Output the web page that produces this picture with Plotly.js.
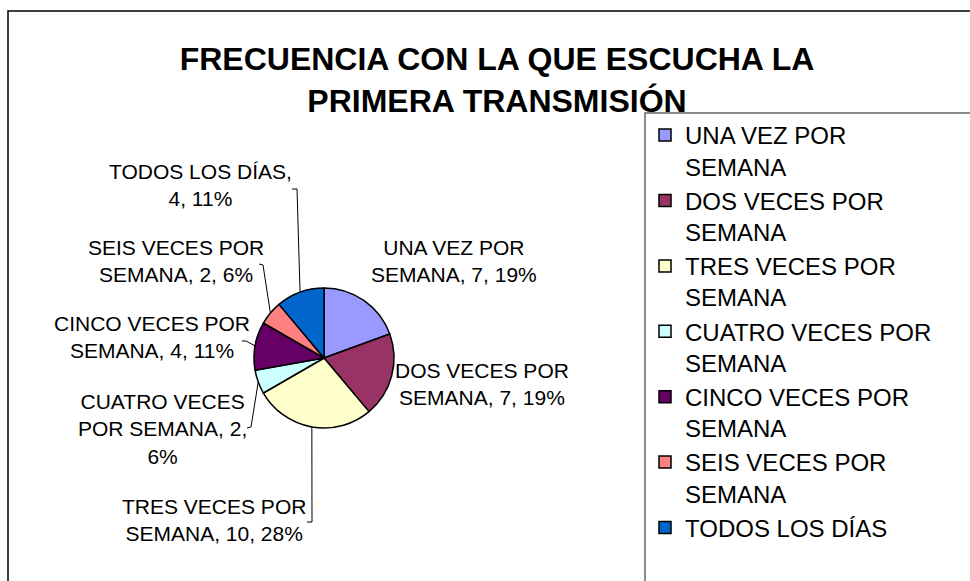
<!DOCTYPE html>
<html>
<head>
<meta charset="utf-8">
<script src="https://cdn.plot.ly/plotly-3.0.1.min.js"></script>
<style>html,body{margin:0;padding:0;background:#fff;}#chart{width:970px;height:581px;}</style>
</head>
<body>
<div id="chart"></div>
<script>
// ---- data ----
var categories = ["UNA VEZ POR SEMANA", "DOS VECES POR SEMANA", "TRES VECES POR SEMANA",
  "CUATRO VECES POR SEMANA", "CINCO VECES POR SEMANA", "SEIS VECES POR SEMANA", "TODOS LOS DÍAS"];
var values = [7, 7, 10, 2, 4, 2, 4];
var colors = ["#9999FF", "#993366", "#FFFFCC", "#CCFFFF", "#660066", "#FF8080", "#0066CC"];
var chartTitle = "FRECUENCIA CON LA QUE ESCUCHA LA<br>PRIMERA TRANSMISIÓN";

// ---- layout constants (pixels) ----
var W = 970, H = 581;
var CX = 324, CY = 358, R = 70;
// label centre positions and wrap widths (chars)
var labelPos = [[454, 261], [482, 384], [214, 520], [162, 429], [152, 337], [176, 261], [200, 185]];
var labelWrap = [14, 14, 15, 14, 15, 14, 15];
// leader lines: [knee, tail] or null
var leaders = [null, null, [[312, 522], [307, 522]], [[251, 427], [247, 428]],
  [[246, 341], [242, 341]], [[263, 265], [259, 264]], [[297, 189], [292, 189]]];

function wrap(s, n) {
  var words = s.split(" "), lines = [], cur = "";
  words.forEach(function (w) {
    if (cur === "") cur = w;
    else if ((cur + " " + w).length <= n) cur += " " + w;
    else { lines.push(cur); cur = w; }
  });
  if (cur) lines.push(cur);
  return lines.join("<br>");
}
function px(x) { return x / W; }
function py(y) { return 1 - y / H; }

var total = values.reduce(function (a, b) { return a + b; }, 0);
var legendLabels = categories.map(function (c) { return wrap(c, 16); });

var annotations = [];
var shapes = [];
var cum = 0;
values.forEach(function (v, i) {
  var pct = Math.round(v / total * 100);
  var txt = wrap(categories[i] + ", " + v + ", " + pct + "%", labelWrap[i]);
  annotations.push({
    xref: "paper", yref: "paper", x: px(labelPos[i][0]), y: py(labelPos[i][1]),
    xanchor: "center", yanchor: "middle", showarrow: false, align: "center",
    text: txt, font: {family: "Liberation Sans, Arial, sans-serif", size: 21, color: "#000"}
  });
  var mid = (cum + v / 2) / total * 2 * Math.PI;
  cum += v;
  if (leaders[i]) {
    var sx = CX + R * Math.sin(mid), sy = CY - R * Math.cos(mid);
    var k = leaders[i][0], t = leaders[i][1];
    shapes.push({
      type: "path", xref: "paper", yref: "paper",
      path: "M" + px(sx) + "," + py(sy) + " L" + px(k[0]) + "," + py(k[1]) + " L" + px(t[0]) + "," + py(t[1]),
      line: {color: "#000", width: 1}
    });
  }
});

// outer chart border & legend border
shapes.push({type: "rect", xref: "paper", yref: "paper", x0: px(8), x1: px(990), y0: py(600), y1: py(11),
  line: {color: "#000", width: 1.5}, fillcolor: "rgba(0,0,0,0)"});
shapes.push({type: "rect", xref: "paper", yref: "paper", x0: px(645), x1: px(1000), y0: py(620), y1: py(113),
  line: {color: "#666", width: 1.5}, fillcolor: "rgba(0,0,0,0)"});

var trace = {
  type: "pie",
  labels: legendLabels,
  values: values,
  sort: false,
  direction: "clockwise",
  rotation: 0,
  textinfo: "none",
  hoverinfo: "label+value+percent",
  marker: {colors: colors, line: {color: "#000", width: 1.5}},
  domain: {x: [px(CX - R), px(CX + R)], y: [py(CY + R), py(CY - R)]}
};

var layout = {
  width: W, height: H,
  margin: {l: 0, r: 0, t: 0, b: 0, autoexpand: false},
  paper_bgcolor: "#fff",
  title: {
    text: chartTitle, x: 497 / W, xanchor: "center", xref: "container",
    y: 1 - 70 / H, yanchor: "top", yref: "container", automargin: false,
    font: {family: "Liberation Sans, Arial, sans-serif", size: 32, weight: 700, color: "#000"}
  },
  showlegend: true,
  legend: {
    xref: "paper", yref: "paper", x: 645 / W, y: 1 - 113 / H,
    xanchor: "left", yanchor: "top", valign: "top", maxheight: 1,
    bgcolor: "rgba(0,0,0,0)", borderwidth: 0,
    font: {family: "Liberation Sans, Arial, sans-serif", size: 24, color: "#000"},
    traceorder: "normal"
  },
  annotations: annotations,
  shapes: shapes
};

Plotly.newPlot("chart", [trace], layout, {displayModeBar: false, staticPlot: true});
</script>
</body>
</html>
